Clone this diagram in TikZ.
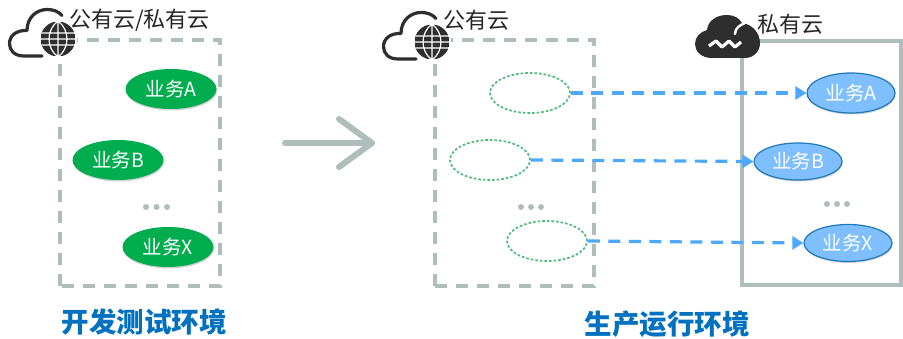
\documentclass[tikz,border=0pt]{standalone}
\usepackage{fontspec}
\setmainfont{Noto Sans CJK SC}
\usetikzlibrary{shapes.geometric,arrows.meta,shadows}
\definecolor{boxgray}{HTML}{AFBDBB}
\definecolor{iconblack}{HTML}{2E2E2E}
\definecolor{biz}{HTML}{00AD4E}
\definecolor{arrowblue}{HTML}{4DA9FF}
\definecolor{lightblue}{HTML}{7FBFFF}
\definecolor{edgeblue}{HTML}{1F78B8}
\definecolor{titleblue}{HTML}{0070C0}
\definecolor{ghost}{HTML}{4DBB7C}
\tikzset{
  dashbox/.style={draw=boxgray,line width=3.4pt,dash pattern=on 12pt off 9pt},
  solidbox/.style={draw=boxgray,line width=3.4pt},
  bizbase/.style={ellipse,inner sep=0pt,text=white,font=\fontsize{19.5}{19.5}\selectfont,
    drop shadow={shadow xshift=0.5pt,shadow yshift=-1.5pt,opacity=.35}},
  greenbiz/.style={bizbase,fill=biz,minimum width=91pt,minimum height=40pt},
  bluebiz/.style={bizbase,fill=lightblue,draw=edgeblue,line width=1.2pt,minimum width=88pt,minimum height=37pt},
  ghostbiz/.style={ellipse,draw=ghost,line width=1.7pt,dash pattern=on 2.6pt off 2pt,minimum width=80pt,minimum height=40pt,inner sep=0pt},
  flow/.style={draw=arrowblue,line width=3.2pt,dash pattern=on 12pt off 8.5pt,
    -{Triangle[length=11pt,width=13pt,fill=arrowblue,sep=0pt]}},
  captext/.style={inner sep=0pt,anchor=west,text=black!85,font=\fontsize{22}{22}\selectfont},
  envtitle/.style={inner sep=0pt,text=titleblue,font=\fontsize{27.5}{27.5}\selectfont\bfseries},
  dotmark/.style={circle,fill=boxgray,minimum size=6pt,inner sep=0pt},
  bigarrow/.style={draw=boxgray,line width=6pt,line cap=round,line join=round},
  cloudline/.style={draw=iconblack,line width=3.2pt,line cap=round,line join=round}
}
\newcommand{\cloudglobe}[2]{%
 \begin{scope}[shift={(#1,#2)}]
  \draw[cloudline] (42,56) -- (24,56) .. controls (14,56) and (9.5,50) .. (9.5,43.5)
     .. controls (9.5,36) and (16,30) .. (27,30.5)
     .. controls (27,17) and (37,9.5) .. (47,9.5) .. controls (53,9.5) and (58,11) .. (62,15.5);
  \fill[white] (58,39) circle (19);
  \begin{scope}
   \clip (58,39) circle (17.5);
   \fill[iconblack] (41,22) rectangle (75,56);
   \draw[white,line width=1.2pt] (58,21) -- (58,57) (40,33) -- (76,33) (40,45) -- (76,45) (40,39) -- (76,39)
     (58,21) .. controls (46,30) and (46,48) .. (58,57)
     (58,21) .. controls (70,30) and (70,48) .. (58,57);
  \end{scope}
 \end{scope}}
\begin{document}
\begin{tikzpicture}[x=1pt,y=-1pt]
\useasboundingbox (0,0) rectangle (903,339);
\fill[white] (0,0) rectangle (903,339);
% boxes
\draw[dashbox] (60,286) -- (60,40) -- (220,40) -- (220,286) -- cycle;
\draw[dashbox] (435,286) -- (435,40) -- (594,40) -- (594,286) -- cycle;
\draw[solidbox] (742,41) rectangle (901,285);
% icons
\cloudglobe{0}{0}
\cloudglobe{374}{3}
\fill[iconblack] (712,58) .. controls (701,58) and (695,51) .. (695,44) .. controls (695,37) and (700,32) .. (707,30)
  .. controls (708,21) and (716,15) .. (727,15) .. controls (734,15) and (739,18) .. (742,23)
  .. controls (752,24) and (760,33) .. (760,43) .. controls (760,52) and (753,58) .. (745,58) -- cycle;
\draw[white,line width=2.4pt,line cap=round] (735,34) .. controls (735,28) and (740,25) .. (745,23);
\draw[white,line width=3.2pt,line join=round] (709,46) -- (716,41) -- (722,47) -- (729,41) -- (735,47) -- (741,42);
% labels
\node[captext] (cap1) at (69,20) {公有云/私有云};
\node[captext] (cap2) at (443,20) {公有云};
\node[captext] (cap3) at (757,24) {私有云};
% business nodes
\node[greenbiz] (la) at (171,89) {业务A};
\node[greenbiz] (lb) at (118,160) {业务B};
\node[greenbiz] (lx) at (168,247) {业务X};
\node[ghostbiz] (ma) at (530,93) {};
\node[ghostbiz] (mb) at (490,160) {};
\node[ghostbiz] (mx) at (547,241) {};
\node[bluebiz,minimum height=40pt] (ra) at (851,93) {业务A};
\node[bluebiz] (rb) at (798,161.5) {业务B};
\node[bluebiz] (rx) at (848,243) {业务X};
% flows
\draw[flow] (ma.east) -- (ra.west);
\draw[flow] (mb.east) -- (rb.west);
\draw[flow] (mx.east) -- (rx.west);
% dots
\foreach \n/\x/\y in {a/146/207,b/156.5/207,c/167/207,d/521/207,e/531/207,f/541/207,g/827/204,h/837/204,i/847/204}
  \node[dotmark] (dot\n) at (\x,\y) {};
% big arrow
\coordinate (bs) at (285,143);
\coordinate (bt) at (372,143);
\coordinate (bu) at (339,119);
\coordinate (bd) at (339,167);
\draw[bigarrow] (bs) -- (bt);
\draw[bigarrow] (bu) -- (bt) -- (bd);
% titles
\node[envtitle] (t1) at (144,322) {开发测试环境};
\node[envtitle] (t2) at (667,324) {生产运行环境};
\end{tikzpicture}
\end{document}
